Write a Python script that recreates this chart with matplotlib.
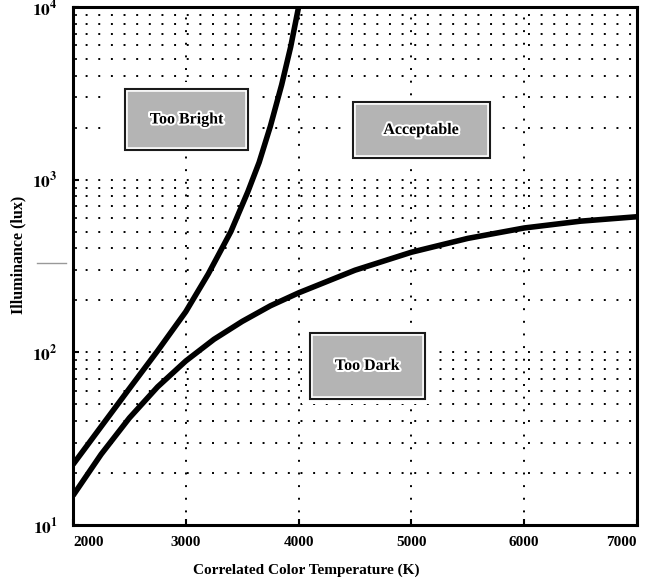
import matplotlib
matplotlib.use("Agg")
import matplotlib.pyplot as plt
import matplotlib.patheffects as pe
from matplotlib.patches import Rectangle
from matplotlib.lines import Line2D

plt.rcParams['font.family'] = ['Liberation Serif', 'DejaVu Serif']
plt.rcParams['font.weight'] = 'bold'
plt.rcParams['mathtext.fontset'] = 'stix'

# upper boundary (too bright)
upper_cct = [2000, 2250, 2500, 2750, 3000, 3200, 3400, 3550, 3650, 3750, 3850, 3930, 4000]
upper_lux = [22.4, 37.2, 61.7, 102, 172, 285, 501, 851, 1259, 2042, 3548, 5888, 10000]

# lower boundary (too dark)
lower_cct = [2000, 2250, 2500, 2750, 3000, 3250, 3500, 3750, 4000, 4500, 5000, 5500, 6000, 6500, 7000]
lower_lux = [14.8, 25.7, 41.7, 63.1, 89.1, 119, 151, 186, 221, 299, 380, 457, 525, 575, 610]

# region labels: text, cct range, lux range
region_names = ['Too Bright', 'Acceptable', 'Too Dark']
region_cct = [(2462, 3554), (4478, 5694), (4099, 5118)]
region_lux = [(1486, 3350), (1336, 2818), (54, 129)]
# white space around the label boxes
clear_cct = [(2290, 3600), (4420, 5780), (4030, 5190)]
clear_lux = [(1380, 3700), (1250, 3050), (50, 140)]

xticks = [2000, 3000, 4000, 5000, 6000, 7000]
yticks = [10, 100, 1000, 10000]
ytick_labels = [r'$\mathbf{10^{1}}$', r'$\mathbf{10^{2}}$', r'$\mathbf{10^{3}}$', r'$\mathbf{10^{4}}$']

fig = plt.figure(figsize=(6.5, 5.82), dpi=100)
ax = fig.add_axes([73 / 650, 57 / 582, 564 / 650, 518 / 582])

ax.set_yscale('log')
ax.set_xlim(2000, 7000)
ax.set_ylim(10, 10000)

ax.set_axisbelow(True)
dots = dict(color='black', linewidth=1.4, linestyle=(0, (1, 5.5)))
ax.grid(which='both', axis='y', **dots)
ax.grid(which='major', axis='x', **dots)

for (c0, c1), (l0, l1) in zip(clear_cct, clear_lux):
    ax.add_patch(Rectangle((c0, l0), c1 - c0, l1 - l0, facecolor='white',
                           edgecolor='none', zorder=1))

for name, (c0, c1), (l0, l1) in zip(region_names, region_cct, region_lux):
    ax.add_patch(Rectangle((c0, l0), c1 - c0, l1 - l0, facecolor='#b4b4b4',
                           edgecolor='white', linewidth=4, zorder=3))
    ax.add_patch(Rectangle((c0, l0), c1 - c0, l1 - l0, facecolor='none',
                           edgecolor='#1a1a1a', linewidth=1.5, zorder=3))
    ax.text((c0 + c1) / 2, (l0 * l1) ** 0.5, name, ha='center', va='center',
            fontsize=11.5, fontweight='bold', zorder=4,
            path_effects=[pe.withStroke(linewidth=3, foreground='white')])

ax.plot(upper_cct, upper_lux, color='black', linewidth=4,
        solid_capstyle='butt', solid_joinstyle='round', zorder=2)
ax.plot(lower_cct, lower_lux, color='black', linewidth=4,
        solid_capstyle='butt', solid_joinstyle='round', zorder=2)

ax.set_xticks(xticks)
ax.set_xticklabels([str(t) for t in xticks], fontsize=11, fontweight='bold')
labs = ax.get_xticklabels()
labs[0].set_ha('left')
labs[-1].set_ha('right')
ax.set_yticks(yticks)
ax.set_yticklabels(ytick_labels, fontsize=12.5)
ax.tick_params(which='both', direction='in', length=4, width=1.5)
ax.tick_params(axis='x', pad=8)
ax.tick_params(axis='y', pad=11)
ax.tick_params(which='minor', length=3, width=1.2)

for s in ax.spines.values():
    s.set_linewidth(2.2)

ax.set_xlabel('Correlated Color Temperature (K)', fontsize=11, fontweight='bold')
ax.xaxis.set_label_coords((306 - 73) / 564, -0.075)
ax.set_ylabel('Illuminance (lux)', fontsize=11.5, fontweight='bold')
ax.yaxis.set_label_coords(-0.082, 0.521)

fig.add_artist(Line2D([37 / 650, 66 / 650], [1 - 263 / 582, 1 - 263 / 582],
                      color='#999999', linewidth=1))

fig.savefig('out.png', dpi=100)
